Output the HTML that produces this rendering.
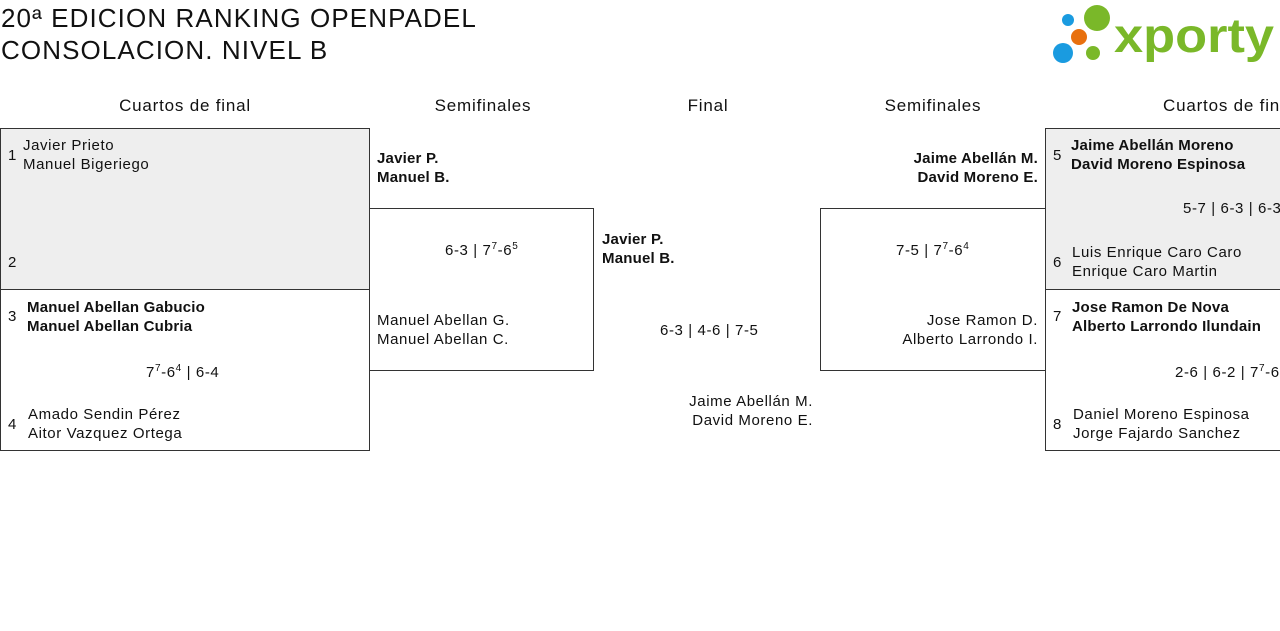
<!DOCTYPE html><html><head><meta charset="utf-8"><style>
body{margin:0;width:1280px;height:631px;overflow:hidden;background:#fff;font-family:"Liberation Sans",sans-serif;color:#111;position:relative}
div{position:absolute;white-space:nowrap}
.t{font-size:15px;line-height:19px;letter-spacing:0.6px}
.b{font-weight:bold;letter-spacing:0.2px}
.h{font-size:17px;top:96px;text-align:center;letter-spacing:0.8px}
sup{font-size:10px;line-height:0}
</style></head><body>
<div style="left:1px;top:2px;font-size:26px;line-height:32px;letter-spacing:1.1px">20ª EDICION RANKING OPENPADEL<br>CONSOLACION. NIVEL B</div>
<svg style="position:absolute;left:1050px;top:4px" width="230" height="64">
<circle cx="18" cy="16" r="6" fill="#1a9be0"/><circle cx="47" cy="14" r="13" fill="#7ab829"/><circle cx="29" cy="33" r="8" fill="#e8700e"/><circle cx="13" cy="49" r="10" fill="#1a9be0"/><circle cx="43" cy="49" r="7" fill="#7ab829"/>
<text x="64" y="48" font-family="Liberation Sans" font-weight="bold" font-size="48" fill="#7ab829" textLength="160" lengthAdjust="spacingAndGlyphs">xporty</text></svg>
<div class="h" style="left:85px;width:200px">Cuartos de final</div>
<div class="h" style="left:383px;width:200px">Semifinales</div>
<div class="h" style="left:608px;width:200px">Final</div>
<div class="h" style="left:833px;width:200px">Semifinales</div>
<div class="h" style="left:1163px">Cuartos de final</div>
<div style="left:0;top:128px;width:368px;height:160px;background:#eee;border:1px solid #333"></div>
<div style="left:0;top:289px;width:368px;height:161px;border:1px solid #333;border-top:none"></div>
<div style="left:369px;top:208px;width:224px;height:161px;border:1px solid #333;border-left:none"></div>
<div style="left:820px;top:208px;width:224px;height:161px;border:1px solid #333;border-right:none"></div>
<div style="left:1045px;top:128px;width:240px;height:160px;background:#eee;border:1px solid #333"></div>
<div style="left:1045px;top:289px;width:240px;height:161px;border:1px solid #333;border-top:none"></div>
<div class="t" style="left:8px;top:146px">1</div><div class="t" style="left:23px;top:136px">Javier Prieto<br>Manuel Bigeriego</div>
<div class="t" style="left:8px;top:253px">2</div>
<div class="t" style="left:8px;top:307px">3</div><div class="t b" style="left:27px;top:298px">Manuel Abellan Gabucio<br>Manuel Abellan Cubria</div>
<div class="t" style="left:146px;top:363px">7<sup>7</sup>-6<sup>4</sup> | 6-4</div>
<div class="t" style="left:8px;top:415px">4</div><div class="t" style="left:28px;top:405px">Amado Sendin Pérez<br>Aitor Vazquez Ortega</div>
<div class="t b" style="left:377px;top:149px">Javier P.<br>Manuel B.</div>
<div class="t" style="left:445px;top:241px">6-3 | 7<sup>7</sup>-6<sup>5</sup></div>
<div class="t" style="left:377px;top:311px">Manuel Abellan G.<br>Manuel Abellan C.</div>
<div class="t b" style="left:602px;top:230px">Javier P.<br>Manuel B.</div>
<div class="t" style="left:660px;top:321px">6-3 | 4-6 | 7-5</div>
<div class="t" style="right:467px;top:392px;text-align:right">Jaime Abellán M.<br>David Moreno E.</div>
<div class="t b" style="right:242px;top:149px;text-align:right">Jaime Abellán M.<br>David Moreno E.</div>
<div class="t" style="left:896px;top:241px">7-5 | 7<sup>7</sup>-6<sup>4</sup></div>
<div class="t" style="right:242px;top:311px;text-align:right">Jose Ramon D.<br>Alberto Larrondo I.</div>
<div class="t" style="left:1053px;top:146px">5</div><div class="t b" style="left:1071px;top:136px">Jaime Abellán Moreno<br>David Moreno Espinosa</div>
<div class="t" style="left:1183px;top:199px">5-7 | 6-3 | 6-3</div>
<div class="t" style="left:1053px;top:253px">6</div><div class="t" style="left:1072px;top:243px">Luis Enrique Caro Caro<br>Enrique Caro Martin</div>
<div class="t" style="left:1053px;top:307px">7</div><div class="t b" style="left:1072px;top:298px">Jose Ramon De Nova<br>Alberto Larrondo Ilundain</div>
<div class="t" style="left:1175px;top:363px">2-6 | 6-2 | 7<sup>7</sup>-6<sup>5</sup></div>
<div class="t" style="left:1053px;top:415px">8</div><div class="t" style="left:1073px;top:405px">Daniel Moreno Espinosa<br>Jorge Fajardo Sanchez</div>
</body></html>
